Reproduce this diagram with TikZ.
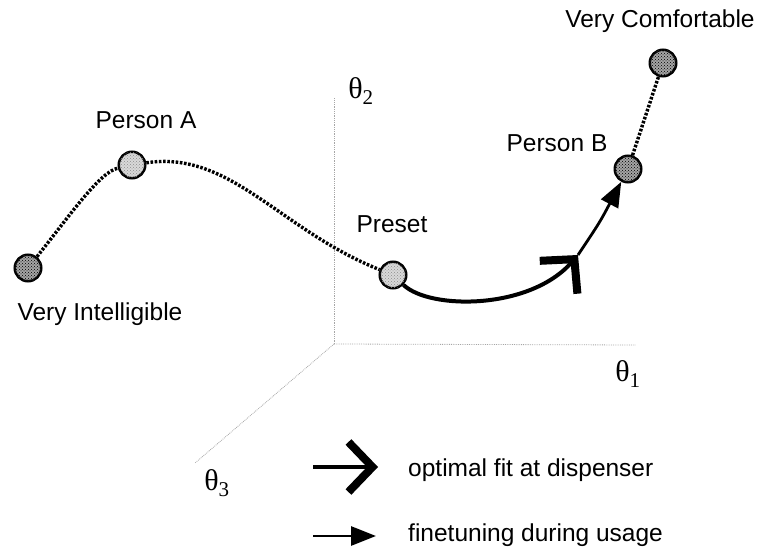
\documentclass[tikz,border=0pt]{standalone}
\usepackage{fontspec}
\setmainfont{Liberation Sans}
\newfontfamily\greekfont{Liberation Serif}
\usetikzlibrary{arrows.meta,patterns}
\tikzset{
    axis/.style = {gray!70, densely dotted, line width=0.8pt},
    lightdot/.style = {circle, draw, line width=2.5pt, minimum size=26.5pt, inner sep=0pt,
        fill=gray!30, postaction={pattern=crosshatch dots, pattern color=gray!90}},
    darkdot/.style = {lightdot, fill=gray!70, postaction={pattern=crosshatch dots, pattern color=black}},
    trail/.style = {line width=3.4pt, dash pattern=on 2.6pt off 1.6pt},
    optfit/.style = {line width=4pt, -{Straight Barb[length=24pt,width=50pt,line width=8pt]}},
    finetune/.style = {line width=2.8pt, -{Triangle[length=25pt,width=19pt]}},
    lbl/.style = {font=\fontsize{24.5}{29}\selectfont, inner sep=0pt, anchor=base},
    thetalbl/.style = {font=\fontsize{30}{34}\selectfont\greekfont, inner sep=0pt}
}
\begin{document}
\begin{tikzpicture}[x=1pt, y=-1pt]
        \useasboundingbox (0,0) rectangle (766,556);
        \coordinate (O) at (334,344);
        \coordinate (end1) at (636,345);
        \coordinate (end2) at (334,98);
        \coordinate (end3) at (195,463);
        \draw [axis] (O) -- (end1);
        \draw [axis] (O) -- (end2);
        \draw [axis] (O) -- (end3);
        \node [thetalbl] (th1) at (628,374) {θ\textsubscript{1}};
        \node [thetalbl] (th2) at (361,91) {θ\textsubscript{2}};
        \node [thetalbl] (th3) at (217,483) {θ\textsubscript{3}};
        \node [darkdot] (intel) at (28,268) {};
        \node [lightdot] (persA) at (132,165) {};
        \node [lightdot] (preset) at (393,275) {};
        \node [darkdot] (persB) at (628,169) {};
        \node [darkdot] (comf) at (663,63) {};
        \coordinate (chev) at (578,255);
        \draw [trail] (intel) .. controls (70,215) and (100,172) .. (persA);
        \draw [trail] (persA) .. controls (230,150) and (280,230) .. (preset);
        \draw [trail] (persB) -- (comf);
        \draw [optfit] (preset) .. controls (430,310) and (530,310) .. (chev);
        \draw [finetune] (chev) .. controls (600,222) .. (persB);
        \node [lbl] (intellbl) at (100,320) {Very Intelligible};
        \node [lbl] (persAlbl) at (146,129) {Person A};
        \node [lbl] (presetlbl) at (392,233) {Preset};
        \node [lbl] (persBlbl) at (557,152) {Person B};
        \node [lbl] (comflbl) at (660,28) {Very Comfortable};
        \coordinate (optA) at (313,467);
        \coordinate (optB) at (378,467);
        \coordinate (fineA) at (313,536);
        \coordinate (fineB) at (376,536);
        \draw [optfit, line width=3.2pt] (optA) -- (optB);
        \draw [finetune] (fineA) -- (fineB);
        \node [lbl, anchor=base west] (optlbl) at (408,476) {optimal fit at dispenser};
        \node [lbl, anchor=base west] (finelbl) at (408,541) {finetuning during usage};
    \end{tikzpicture}
\end{document}
